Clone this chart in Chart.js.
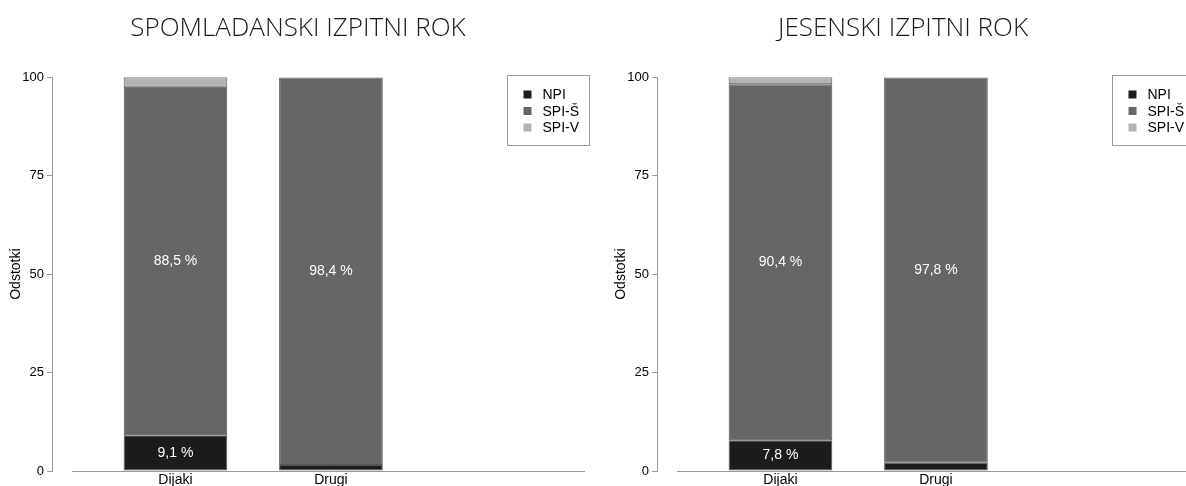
<!DOCTYPE html>
<html><head><meta charset="utf-8">
<script src="https://cdn.jsdelivr.net/npm/chart.js@4/dist/chart.umd.min.js"></script>
<style>
html,body{margin:0;padding:0;width:1186px;height:486px;overflow:hidden;background:#fff}
.panel{position:absolute;top:0;width:590px;height:486px}
canvas{display:block}
</style></head><body>
<div class="panel" style="left:0"><canvas id="c1" width="590" height="486"></canvas></div>
<div class="panel" style="left:605px"><canvas id="c2" width="590" height="486"></canvas></div>
<script>
// ---- data ----
const categories = ['Dijaki', 'Drugi'];
const seriesNames = ['NPI', 'SPI-Š', 'SPI-V'];
const titles = ['SPOMLADANSKI IZPITNI ROK', 'JESENSKI IZPITNI ROK'];
const springNPI  = [9.1, 1.5];
const springSPIS = [88.5, 98.4];
const springSPIV = [2.4, 0.1];
const autumnNPI  = [7.8, 2.1];
const autumnSPIS = [90.4, 97.8];
const autumnSPIV = [1.8, 0.1];
const yTicks = [0, 25, 50, 75, 100];
const yAxisTitle = 'Odstotki';

const colors = ['#1c1c1c', '#666666', '#b3b3b3'];
const FONT = '"Liberation Sans", Arial, sans-serif';

const decor = {
  id: 'decor',
  afterDatasetsDraw(chart) {
    const ctx = chart.ctx;
    ctx.save();
    ctx.font = '14px ' + FONT;
    ctx.fillStyle = '#ffffff';
    ctx.textAlign = 'center';
    ctx.textBaseline = 'middle';
    chart.data.datasets.forEach((ds, di) => {
      const meta = chart.getDatasetMeta(di);
      meta.data.forEach((bar, i) => {
        const v = ds.data[i].y;
        if (v < 5) return;
        const p = bar.getProps(['x', 'y', 'base'], true);
        ctx.fillText(v.toFixed(1).replace('.', ',') + ' %', p.x, (p.y + p.base) / 2);
      });
    });
    ctx.restore();
  },
  afterDraw(chart) {
    const ctx = chart.ctx, ca = chart.chartArea;
    ctx.save();
    // x axis line (offset from y axis)
    ctx.strokeStyle = '#9a9a9a';
    ctx.lineWidth = 1;
    ctx.beginPath();
    ctx.moveTo(ca.left + 20, Math.round(ca.bottom) + 0.5);
    ctx.lineTo(ca.right - 5, Math.round(ca.bottom) + 0.5);
    ctx.stroke();
    // legend box
    const bx = Math.round(ca.right) - 83 + 0.5, by = Math.round(ca.top) - 2 + 0.5;
    ctx.fillStyle = '#fff';
    ctx.fillRect(bx, by, 82, 70);
    ctx.strokeStyle = '#9a9a9a';
    ctx.strokeRect(bx, by, 82, 70);
    ctx.font = '14px ' + FONT;
    ctx.textBaseline = 'middle';
    ctx.textAlign = 'left';
    chart.data.datasets.forEach((ds, i) => {
      const cy = by + 19 + i * 16.5;
      ctx.fillStyle = ds.backgroundColor;
      ctx.fillRect(bx + 16, cy - 4, 8, 8);
      ctx.fillStyle = '#000';
      ctx.fillText(ds.label, bx + 35, cy + 1);
    });
    ctx.restore();
  }
};

function makeChart(id, title, npi, spis, spiv) {
  const series = [npi, spis, spiv];
  new Chart(document.getElementById(id), {
    type: 'bar',
    data: {
      datasets: series.map((vals, si) => ({
        label: seriesNames[si],
        data: categories.map((c, i) => ({ x: i, y: vals[i] })),
        backgroundColor: colors[si],
        borderColor: '#555555',
        borderWidth: 1,
        borderSkipped: false,
        barPercentage: 2 / 3,
        categoryPercentage: 1
      }))
    },
    options: {
      responsive: false,
      animation: false,
      devicePixelRatio: 1,
      layout: { padding: { left: 6, right: 0, top: 0, bottom: 0 } },
      plugins: {
        legend: { display: false },
        tooltip: { enabled: false },
        title: {
          display: true,
          text: title,
          color: '#1a1a1a',
          font: { family: '"Open Sans", sans-serif', size: 26, weight: '300', lineHeight: 1.2 },
          padding: { top: 13, bottom: 33 }
        }
      },
      scales: {
        x: {
          type: 'linear',
          stacked: true,
          offset: false,
          min: -0.794,
          max: 2.666,
          grid: { display: false, drawTicks: false, tickLength: 0 },
          border: { display: false },
          afterBuildTicks(scale) { scale.ticks = categories.map((c, i) => ({ value: i })); },
          afterFit(scale) { scale.height = 15; },
          ticks: {
            callback: (v) => categories[v] ?? '',
            color: '#000',
            font: { family: FONT, size: 14, lineHeight: 1 },
            padding: 2,
            maxRotation: 0,
            autoSkip: false
          }
        },
        y: {
          stacked: true,
          min: 0,
          max: 100,
          afterBuildTicks(scale) { scale.ticks = yTicks.map(v => ({ value: v })); },
          afterFit(scale) { scale.width = 46; },
          grid: { drawOnChartArea: false, drawTicks: true, tickLength: 5, color: '#9a9a9a' },
          border: { display: true, color: '#9a9a9a' },
          ticks: { color: '#000', font: { family: FONT, size: 13 }, padding: 3 },
          title: {
            display: true,
            text: yAxisTitle,
            color: '#000',
            font: { family: FONT, size: 14 },
            padding: { top: 2, bottom: 0 }
          }
        }
      }
    },
    plugins: [decor]
  });
}

makeChart('c1', titles[0], springNPI, springSPIS, springSPIV);
makeChart('c2', titles[1], autumnNPI, autumnSPIS, autumnSPIV);
</script>
</body></html>
